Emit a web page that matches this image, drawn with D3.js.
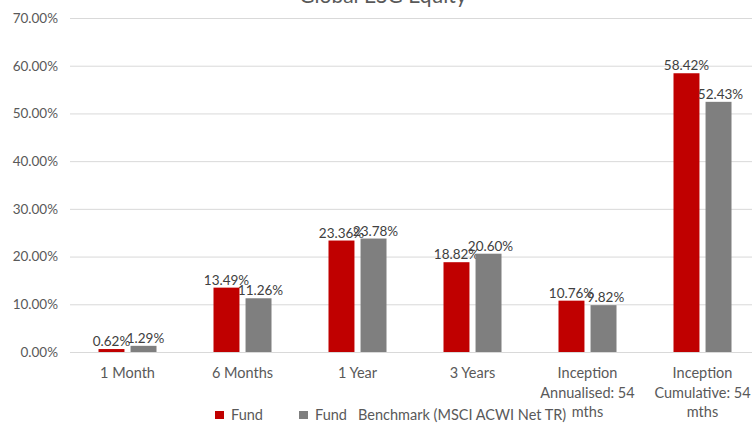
<!DOCTYPE html>
<html><head><meta charset="utf-8">
<script src="https://cdn.jsdelivr.net/npm/d3@7"></script>
<style>body{margin:0;background:#fff}svg{display:block}text{font-family:Lato,"Open Sans",sans-serif}</style>
</head><body>
<svg id="c" width="752" height="425"></svg>
<script>
const title = "Global ESG Equity";
const categories = [["1 Month"],["6 Months"],["1 Year"],["3 Years"],["Inception","Annualised: 54","mths"],["Inception","Cumulative: 54","mths"]];
const seriesNames = ["Fund","Fund   Benchmark (MSCI ACWI Net TR)"];
const fund = [0.62,13.49,23.36,18.82,10.76,58.42];
const bench = [1.29,11.26,23.78,20.60,9.82,52.43];
const yTicks = [0,10,20,30,40,50,60,70];
const colors = ["#C00000","#7F7F7F"];

const svg = d3.select("#c");
const x = d3.scaleBand().domain(d3.range(categories.length)).range([70,760]);
const y = d3.scaleLinear().domain([0,70]).range([352,18]);
const inner = d3.scaleBand().domain([0,1]).range([28.5,86.5]).paddingInner(0.19);

svg.append("text").attr("x",383).attr("y",3).attr("text-anchor","middle")
  .attr("font-size",21).attr("fill","#595959").text(title);

const yAxis = svg.append("g").attr("transform","translate(70,0)")
  .call(d3.axisLeft(y).tickValues(yTicks).tickSize(-682).tickFormat(d=>d.toFixed(2)+"%"));
yAxis.select(".domain").remove();
yAxis.selectAll(".tick line").attr("stroke","#D9D9D9");
yAxis.selectAll(".tick text").attr("x",-12).attr("font-size",13.5).attr("fill","#595959").attr("font-family","Lato");

const data = [fund,bench];
data.forEach((vals,si)=>{
  const g = svg.append("g");
  g.selectAll("rect").data(vals).join("rect")
    .attr("x",(d,i)=>x(i)+inner(si)).attr("width",inner.bandwidth())
    .attr("y",d=>y(d)).attr("height",d=>y(0)-y(d)).attr("fill",colors[si]);
  g.selectAll("text").data(vals).join("text")
    .attr("x",(d,i)=>x(i)+inner(si)+inner.bandwidth()/2+(si?2:0))
    .attr("y",d=>y(d)-3).attr("text-anchor","middle")
    .attr("font-size",13.5).attr("fill","#404040").text(d=>d.toFixed(2)+"%");
});

const xg = svg.append("g");
categories.forEach((lines,i)=>{
  const t = xg.append("text").attr("text-anchor","middle").attr("font-size",14.5).attr("fill","#595959");
  lines.forEach((l,j)=>t.append("tspan").attr("x",x(i)+x.bandwidth()/2).attr("y",378+j*19.5).text(l));
});

const leg = svg.append("g");
const lx = [215,299];
seriesNames.forEach((n,i)=>{
  leg.append("rect").attr("x",lx[i]).attr("y",411).attr("width",9).attr("height",8).attr("fill",colors[i]);
  leg.append("text").attr("x",lx[i]+16).attr("y",420).attr("font-size",14.5).attr("fill","#595959")
    .attr("xml:space","preserve").style("white-space","pre").text(n);
});
</script>
</body></html>
